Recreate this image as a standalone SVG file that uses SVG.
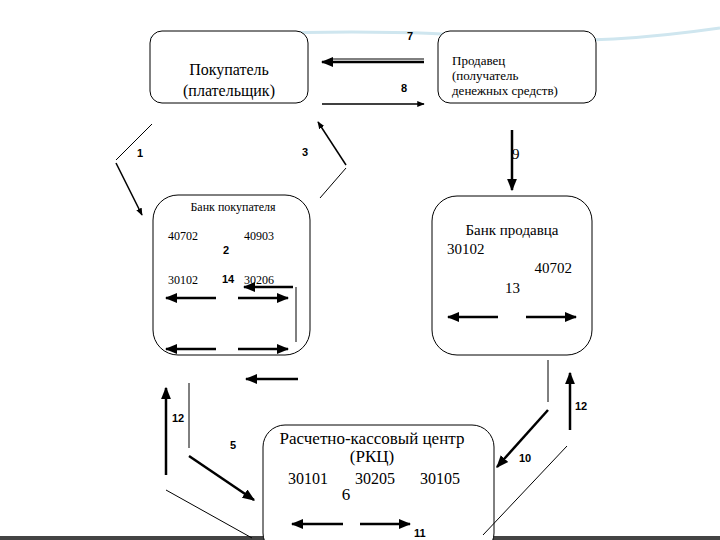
<svg xmlns="http://www.w3.org/2000/svg" width="720" height="540" viewBox="0 0 720 540">
<defs>
<marker id="ah" viewBox="0 0 10 10" refX="9" refY="5" markerWidth="5" markerHeight="5" orient="auto"><path d="M0,1 L10,5 L0,9 z" fill="#000"/></marker>
<style>
.box{fill:#fff;stroke:#000;stroke-width:1}
.t{fill:#000}
.n{font-family:"Liberation Sans",sans-serif;font-weight:bold;font-size:11px;fill:#000}
.a{stroke:#000;stroke-width:2.5;fill:none;marker-end:url(#ah)}
.a1{stroke:#000;stroke-width:1.5;fill:none;marker-end:url(#ah)}
.l{stroke:#000;stroke-width:1;fill:none}
</style>
</defs>
<rect width="720" height="540" fill="#fff"/>
<path d="M150,38 C300,30 420,30 500,38 C580,44 650,38 720,28" stroke="#cfe6ef" stroke-width="3" fill="none"/>
<rect x="0" y="536" width="720" height="4" fill="#444"/>
<g font-family="'Liberation Serif', 'DejaVu Serif', serif">
<g id="buyer"><rect class="box" x="150" y="31" width="158" height="72" rx="12"/>
<text class="t" x="229" y="75" font-size="16" text-anchor="middle">Покупатель</text>
<text class="t" x="229" y="96" font-size="16" text-anchor="middle">(плательщик)</text></g>
<g id="seller"><rect class="box" x="438" y="31" width="158" height="72" rx="12"/>
<text class="t" x="452" y="65" font-size="13">Продавец</text>
<text class="t" x="452" y="80" font-size="13">(получатель</text>
<text class="t" x="452" y="95" font-size="13">денежных средств)</text></g>
<g id="buyerbank"><rect class="box" x="153" y="195" width="157" height="160" rx="25"/>
<text class="t" x="233" y="211" font-size="12" text-anchor="middle">Банк покупателя</text>
<text class="t" x="168" y="240" font-size="12">40702</text>
<text class="t" x="244" y="240" font-size="12">40903</text>
<text class="t" x="168" y="284" font-size="12">30102</text>
<text class="t" x="244" y="284" font-size="12">30206</text></g>
<g id="sellerbank"><rect class="box" x="432" y="196" width="160" height="159" rx="25"/>
<text class="t" x="512" y="235" font-size="15" text-anchor="middle">Банк продавца</text>
<text class="t" x="447" y="254" font-size="15">30102</text>
<text class="t" x="572" y="273" font-size="15" text-anchor="end">40702</text>
<text class="t" x="505" y="293" font-size="15">13</text></g>
<g id="rkc"><rect class="box" x="263" y="425" width="231" height="130" rx="22"/>
<text class="t" x="372" y="444" font-size="17" text-anchor="middle">Расчетно-кассовый центр</text>
<text class="t" x="372" y="462" font-size="17" text-anchor="middle">(РКЦ)</text>
<text class="t" x="308" y="484" font-size="16" text-anchor="middle">30101</text>
<text class="t" x="375" y="484" font-size="16" text-anchor="middle">30205</text>
<text class="t" x="440" y="484" font-size="16" text-anchor="middle">30105</text>
<text class="t" x="346" y="500" font-size="17" text-anchor="middle">6</text></g>
<text class="t" x="512" y="159" font-size="15">9</text>
</g>
<g id="connectors">
<line class="l" x1="424" y1="59" x2="330" y2="59"/>
<line class="a" x1="424" y1="62" x2="322" y2="62"/>
<line class="a1" x1="322" y1="104" x2="424" y2="104"/>
<line class="l" x1="152" y1="124" x2="116" y2="160"/>
<line class="a1" x1="116" y1="163" x2="142" y2="215"/>
<line class="a1" x1="346" y1="165" x2="318" y2="122"/>
<line class="l" x1="346" y1="168" x2="320" y2="198"/>
<line class="a" x1="512" y1="130" x2="512" y2="190"/>
<line class="a" x1="293" y1="287" x2="244" y2="287"/>
<line class="l" x1="296" y1="287" x2="296" y2="342" stroke-width="1.5"/>
<line class="a" x1="216" y1="298" x2="166" y2="298"/>
<line class="a" x1="238" y1="298" x2="288" y2="298"/>
<line class="a" x1="216" y1="349" x2="166" y2="349"/>
<line class="a" x1="238" y1="349" x2="288" y2="349"/>
<line class="a" x1="298" y1="379" x2="246" y2="379"/>
<line class="a" x1="498" y1="317" x2="448" y2="317"/>
<line class="a" x1="526" y1="317" x2="576" y2="317"/>
<line class="l" x1="548" y1="360" x2="548" y2="402"/>
<line class="a" x1="548" y1="410" x2="497" y2="467"/>
<line class="a" x1="570" y1="430" x2="570" y2="373"/>
<line class="l" x1="567" y1="446" x2="483" y2="535"/>
<line class="a" x1="166" y1="475" x2="166" y2="388"/>
<line class="l" x1="189" y1="383" x2="189" y2="448"/>
<line class="a" x1="189" y1="456" x2="254" y2="500"/>
<line class="l" x1="166" y1="490" x2="252" y2="538"/>
<line class="a" x1="343" y1="524" x2="292" y2="524"/>
<line class="a" x1="360" y1="524" x2="410" y2="524"/>
</g>
<g id="labels">
<text class="n" x="407" y="40">7</text>
<text class="n" x="401" y="92">8</text>
<text class="n" x="137" y="157">1</text>
<text class="n" x="302" y="156">3</text>
<text class="n" x="223" y="254">2</text>
<text class="n" x="222" y="283">14</text>
<text class="n" x="575" y="410">12</text>
<text class="n" x="519" y="462">10</text>
<text class="n" x="172" y="422">12</text>
<text class="n" x="230" y="449">5</text>
<text class="n" x="414" y="537">11</text>
</g>
</svg>
